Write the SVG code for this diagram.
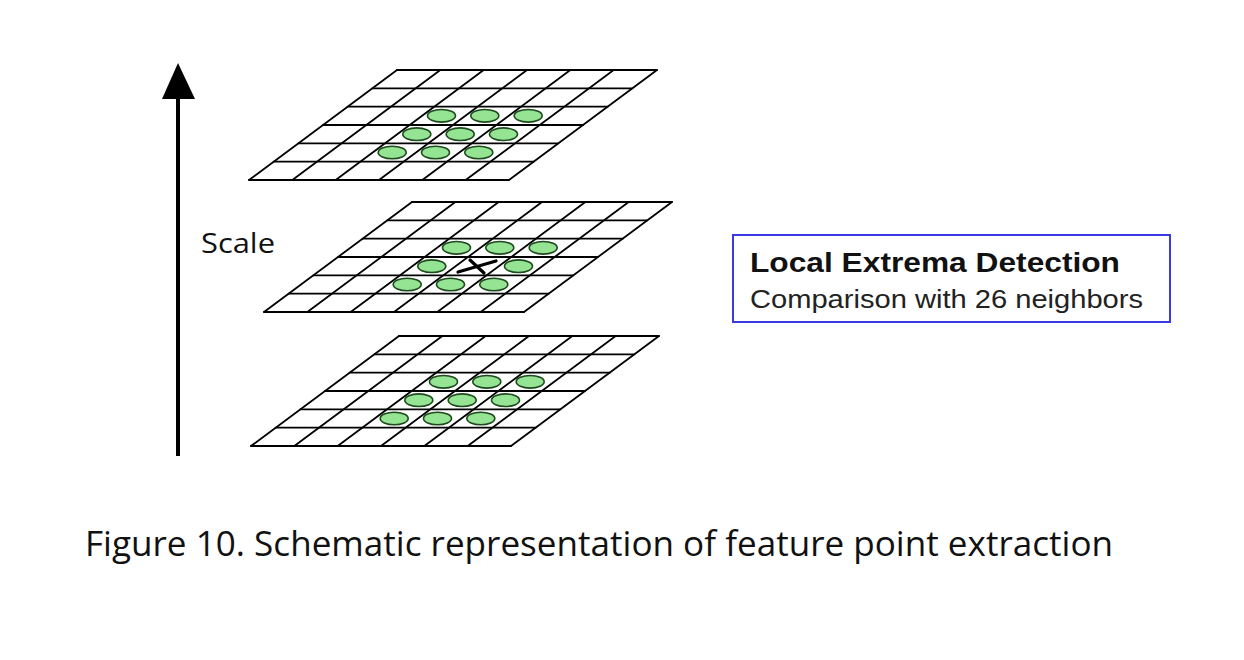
<svg xmlns="http://www.w3.org/2000/svg" xmlns:xlink="http://www.w3.org/1999/xlink" width="1244" height="660" viewBox="0 0 1244 660">
<style>
.grid line{stroke:#000;stroke-width:1.8;stroke-linecap:round}
.pt{fill:#94e494;stroke:#1e4a1e;stroke-width:1.6}
.lbl{font-family:"Open Sans","Liberation Sans",sans-serif;fill:#111}
</style>
<defs>
<g id="gridLines" class="grid">
<line x1="0" y1="0" x2="260" y2="0"/>
<line x1="-24.67" y1="18.33" x2="235.33" y2="18.33"/>
<line x1="-49.33" y1="36.67" x2="210.67" y2="36.67"/>
<line x1="-74" y1="55" x2="186" y2="55"/>
<line x1="-98.67" y1="73.33" x2="161.33" y2="73.33"/>
<line x1="-123.33" y1="91.67" x2="136.67" y2="91.67"/>
<line x1="-148" y1="110" x2="112" y2="110"/>
<line x1="0" y1="0" x2="-148" y2="110"/>
<line x1="43.33" y1="0" x2="-104.67" y2="110"/>
<line x1="86.67" y1="0" x2="-61.33" y2="110"/>
<line x1="130" y1="0" x2="-18" y2="110"/>
<line x1="173.33" y1="0" x2="25.33" y2="110"/>
<line x1="216.67" y1="0" x2="68.67" y2="110"/>
<line x1="260" y1="0" x2="112" y2="110"/>
</g>
<g id="ring">
<ellipse class="pt" cx="44.5" cy="45.8" rx="14" ry="6.3"/>
<ellipse class="pt" cx="87.8" cy="45.8" rx="14" ry="6.3"/>
<ellipse class="pt" cx="131.2" cy="45.8" rx="14" ry="6.3"/>
<ellipse class="pt" cx="19.8" cy="64.2" rx="14" ry="6.3"/>
<ellipse class="pt" cx="106.5" cy="64.2" rx="14" ry="6.3"/>
<ellipse class="pt" cx="-4.8" cy="82.5" rx="14" ry="6.3"/>
<ellipse class="pt" cx="38.5" cy="82.5" rx="14" ry="6.3"/>
<ellipse class="pt" cx="81.8" cy="82.5" rx="14" ry="6.3"/>
</g>
</defs>

<g id="layer-top" transform="translate(397,70)">
<use xlink:href="#gridLines"/>
<use xlink:href="#ring"/>
<ellipse class="pt" cx="63.2" cy="64.2" rx="14" ry="6.3"/>
</g>

<g id="layer-middle" transform="translate(412,202)">
<use xlink:href="#gridLines"/>
<use xlink:href="#ring"/>
<g stroke="#000" stroke-width="3.2" stroke-linecap="round">
<line x1="46" y1="70" x2="84" y2="59"/>
<line x1="58" y1="58" x2="72" y2="71"/>
</g>
</g>

<g id="layer-bottom" transform="translate(399,336)">
<use xlink:href="#gridLines"/>
<use xlink:href="#ring"/>
<ellipse class="pt" cx="63.2" cy="64.2" rx="14" ry="6.3"/>
</g>

<g id="scale-axis">
<line x1="178" y1="456" x2="178" y2="92" stroke="#000" stroke-width="4"/>
<polygon points="178,63 162,99 195,99" fill="#000"/>
<text class="lbl" x="201" y="253" font-size="28" textLength="74" lengthAdjust="spacingAndGlyphs">Scale</text>
</g>

<g id="info-box">
<rect x="733" y="235" width="437" height="87" fill="#fff" stroke="#3a3ae0" stroke-width="2"/>
<text x="750" y="272" font-family="'Liberation Sans',sans-serif" font-weight="bold" font-size="27" fill="#111" textLength="370" lengthAdjust="spacingAndGlyphs">Local Extrema Detection</text>
<text x="750" y="308" font-family="'Liberation Sans',sans-serif" font-size="25" fill="#222" textLength="393" lengthAdjust="spacingAndGlyphs">Comparison with 26 neighbors</text>
</g>

<g id="caption">
<text class="lbl" x="85" y="556" font-size="35" textLength="1028" lengthAdjust="spacingAndGlyphs">Figure 10. Schematic representation of feature point extraction</text>
</g>
</svg>
